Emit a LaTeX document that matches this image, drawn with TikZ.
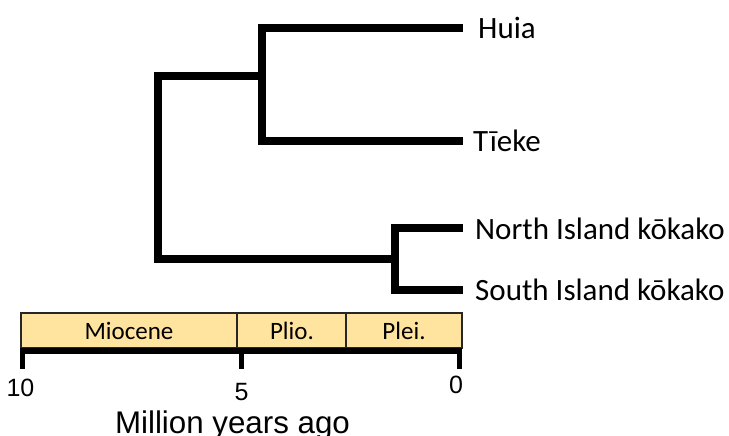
\documentclass[tikz,border=0pt]{standalone}
\usepackage{fontspec}
\setmainfont{Carlito}
\newfontfamily\axisfont{Liberation Sans}
\definecolor{epochfill}{RGB}{255,228,160}
\begin{document}
\begin{tikzpicture}[x=1pt,y=-1pt,
  branch/.style={line width=8pt, line join=miter},
  taxon/.style={anchor=west, inner sep=0pt, font=\fontsize{31}{34}\selectfont},
  epoch/.style={draw=black!85, line width=1.3pt, fill=epochfill},
  epochlabel/.style={inner sep=0pt, font=\fontsize{25}{28}\selectfont},
  tick/.style={line width=5pt},
  ticklabel/.style={inner sep=0pt, font=\axisfont\fontsize{25}{28}\selectfont}]
\useasboundingbox (0,0) rectangle (729,436);

% leaves
\coordinate (huiaEnd) at (463,28);
\coordinate (tiekeEnd) at (463,141);
\coordinate (nikEnd) at (463,228);
\coordinate (sikEnd) at (463,290);
% internal nodes
\coordinate (nA) at (262,76);
\coordinate (nK) at (395,259);
\coordinate (root) at (158,167);

\node[taxon] (huia) at (478,28) {Huia};
\node[taxon] (tieke) at (473,141) {Tīeke};
\node[taxon] (nik) at (475,229) {North Island kōkako};
\node[taxon] (sik) at (475,290) {South Island kōkako};

% tree
\draw[branch] (huiaEnd) -- (huiaEnd -| nA) -- (tiekeEnd -| nA) -- (tiekeEnd);
\draw[branch] (nikEnd) -- (nikEnd -| nK) -- (sikEnd -| nK) -- (sikEnd);
\draw[branch] (nA) -- (nA -| root) -- (nK -| root) -- (nK);

% epoch bar
\node[epoch, minimum width=216pt, minimum height=35pt, inner sep=0pt] (mio) at (129,330.5) {};
\node[epoch, minimum width=110pt, minimum height=35pt, inner sep=0pt] (plio) at (292,330.5) {};
\node[epoch, minimum width=116pt, minimum height=35pt, inner sep=0pt] (plei) at (404,330.5) {};
\node[epochlabel] at (mio) {Miocene};
\node[epochlabel] at (plio) {Plio.};
\node[epochlabel] at (plei) {Plei.};

% time axis
\coordinate (t10) at (22.5,351);
\coordinate (t5) at (241.5,351);
\coordinate (t0) at (459.5,351);
\draw[line width=6.5pt] (20,351) -- (462,351);
\draw[tick] (t10) -- ++(0,18);
\draw[tick] (t5) -- ++(0,18);
\draw[tick] (t0) -- ++(0,18);
\node[ticklabel] at (20.5,388) {10};
\node[ticklabel] at (241.5,392.5) {5};
\node[ticklabel] at (456,385) {0};
\node[anchor=base, inner sep=0pt, font=\axisfont\fontsize{31.3}{34}\selectfont] (axis) at (232.5,433) {Million years ago};
\end{tikzpicture}
\end{document}
